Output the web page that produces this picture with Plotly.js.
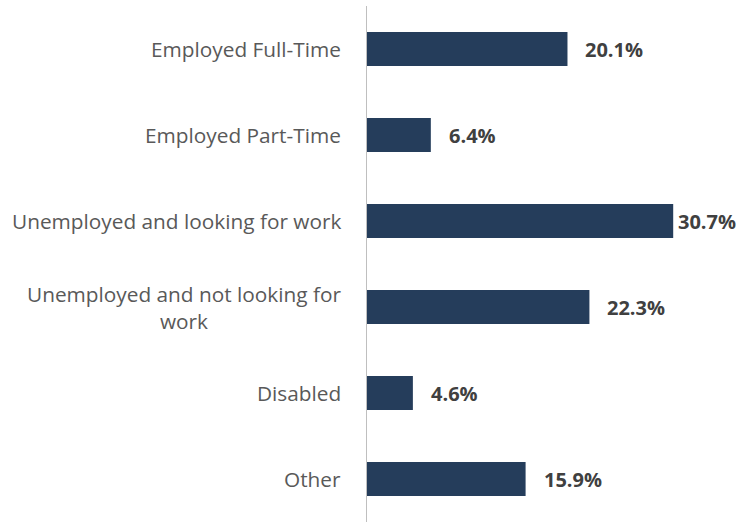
<!DOCTYPE html>
<html>
<head>
<meta charset="utf-8">
<script src="https://cdn.plot.ly/plotly-3.0.1.min.js"></script>
<style>html,body{margin:0;padding:0;background:#fff;}#chart{width:751px;height:522px;}</style>
</head>
<body>
<div id="chart"></div>
<script>
var categories = ["Employed Full-Time", "Employed Part-Time", "Unemployed and looking for work", "Unemployed and not looking for<br>work", "Disabled", "Other"];
var values = [20.1, 6.4, 30.7, 22.3, 4.6, 15.9];
var valueLabels = ["20.1%", "6.4%", "30.7%", "22.3%", "4.6%", "15.9%"];

var labelShift = [16, 16, 3, 16, 16, 16];
var FONT = "'Open Sans', 'Noto Sans', sans-serif";

var annotations = [];
categories.forEach(function (c, i) {
  annotations.push({
    xref: "paper", yref: "y", x: 0, y: i, text: c,
    xanchor: "right", yanchor: "middle", align: "center", xshift: -24,
    showarrow: false, font: {family: FONT, size: 20.8, color: "#595959"}
  });
  annotations.push({
    xref: "x", yref: "y", x: values[i], y: i, text: "<b>" + valueLabels[i] + "</b>",
    xanchor: "left", yanchor: "middle", xshift: labelShift[i],
    showarrow: false, font: {family: FONT, size: 20, color: "#404040"}
  });
});

var trace = {
  type: "bar", orientation: "h",
  x: values, y: categories.map(function (c, i) { return i; }),
  marker: {color: "#253D5B"},
  hoverinfo: "none"
};

var layout = {
  width: 751, height: 522,
  margin: {l: 367, r: 0, t: 6, b: 0},
  paper_bgcolor: "#fff", plot_bgcolor: "#fff",
  bargap: 0.605,
  showlegend: false,
  xaxis: {range: [0, 38.5], showgrid: false, zeroline: false, showticklabels: false, showline: false, fixedrange: true},
  yaxis: {range: [5.5, -0.5], showgrid: false, zeroline: false, showticklabels: false, ticks: "",
          showline: true, linecolor: "#BFBFBF", linewidth: 1.5, fixedrange: true},
  annotations: annotations
};

Plotly.newPlot("chart", [trace], layout, {displayModeBar: false, staticPlot: true});
</script>
</body>
</html>
